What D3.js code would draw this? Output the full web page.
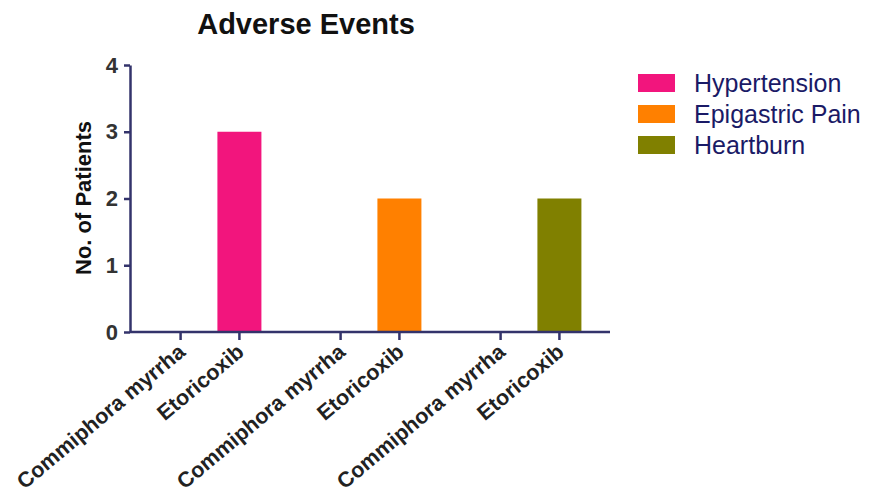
<!DOCTYPE html>
<html lang="en">
<head>
  <meta charset="UTF-8">
  <title>Adverse Events</title>
  <script src="https://d3js.org/d3.v7.min.js"></script>
  <style>
    body { margin: 0; background: #fff; }
    text { font-family: "Liberation Sans", Arial, sans-serif; }
  </style>
</head>
<body>
  <script>
    "use strict";
    // data
    var events = ["Hypertension", "Epigastric Pain", "Heartburn"];
    var treatments = ["Commiphora myrrha", "Etoricoxib"];
    var commiphoraValues = [0, 0, 0];
    var etoricoxibValues = [3, 2, 2];
    var yTicks = [0, 1, 2, 3, 4];
    var colors = ["#f2157d", "#ff8000", "#808000"];

    var axisColor = "#33336b";

    var rows = [];
    events.forEach(function (ev, i) {
      rows.push({ event: ev, treatment: treatments[0], value: commiphoraValues[i], color: colors[i] });
      rows.push({ event: ev, treatment: treatments[1], value: etoricoxibValues[i], color: colors[i] });
    });

    var svg = d3.select("body").append("svg")
      .attr("width", 873)
      .attr("height", 498);

    var x0 = d3.scaleBand().domain(events).range([130, 610]).padding(0);
    var x1 = d3.scalePoint().domain(treatments).range([0, x0.bandwidth()]).padding(0.86);
    var y = d3.scaleLinear().domain([0, 4]).range([332, 65]);
    var barW = 44;

    function xPos(d) { return x0(d.event) + x1(d.treatment); }

    // bars
    svg.selectAll("rect.bar")
      .data(rows)
      .enter().append("rect")
      .attr("class", "bar")
      .attr("x", function (d) { return xPos(d) - barW / 2; })
      .attr("y", function (d) { return y(d.value); })
      .attr("width", barW)
      .attr("height", function (d) { return y(0) - y(d.value); })
      .attr("fill", function (d) { return d.color; });

    // y axis
    var yAxis = svg.append("g")
      .attr("transform", "translate(130,0)")
      .call(d3.axisLeft(y).tickValues(yTicks).tickFormat(d3.format("d")).tickSize(6).tickSizeOuter(0).tickPadding(6));
    yAxis.select(".domain").attr("stroke", axisColor).attr("stroke-width", 2.5);
    yAxis.selectAll(".tick line").attr("stroke", axisColor).attr("stroke-width", 2.5);
    yAxis.selectAll(".tick text")
      .attr("fill", "#333")
      .attr("font-size", 22)
      .attr("font-weight", "bold")
      .attr("font-family", "Liberation Sans, Arial, sans-serif");

    // x axis
    svg.append("line")
      .attr("x1", x0.range()[0]).attr("x2", x0.range()[1])
      .attr("y1", y(0)).attr("y2", y(0))
      .attr("stroke", axisColor).attr("stroke-width", 2.5);

    svg.selectAll("line.xtick")
      .data(rows)
      .enter().append("line")
      .attr("class", "xtick")
      .attr("x1", xPos).attr("x2", xPos)
      .attr("y1", y(0)).attr("y2", y(0) + 8)
      .attr("stroke", axisColor).attr("stroke-width", 2.5);

    svg.selectAll("text.xlabel")
      .data(rows)
      .enter().append("text")
      .attr("class", "xlabel")
      .attr("transform", function (d) {
        return "translate(" + (xPos(d) + 6) + "," + (y(0) + 22) + ") rotate(-40)";
      })
      .attr("text-anchor", "end")
      .attr("font-size", 21.5)
      .attr("font-weight", "bold")
      .attr("fill", "#222")
      .text(function (d) { return d.treatment; });

    // y label
    svg.append("text")
      .attr("transform", "translate(91,198) rotate(-90)")
      .attr("text-anchor", "middle")
      .attr("font-size", 22)
      .attr("font-weight", "bold")
      .attr("fill", "#111")
      .text("No. of Patients");

    // title
    svg.append("text")
      .attr("x", 306)
      .attr("y", 34)
      .attr("text-anchor", "middle")
      .attr("font-size", 29)
      .attr("font-weight", "bold")
      .attr("fill", "#111")
      .text("Adverse Events");

    // legend
    var legend = svg.append("g").attr("transform", "translate(638,74)");
    var item = legend.selectAll("g")
      .data(events)
      .enter().append("g")
      .attr("transform", function (d, i) { return "translate(0," + (i * 31) + ")"; });
    item.append("rect")
      .attr("width", 37)
      .attr("height", 18)
      .attr("fill", function (d, i) { return colors[i]; });
    item.append("text")
      .attr("x", 56)
      .attr("y", 18)
      .attr("font-size", 25)
      .attr("fill", "#1a1a66")
      .text(function (d) { return d; });
  </script>
</body>
</html>
